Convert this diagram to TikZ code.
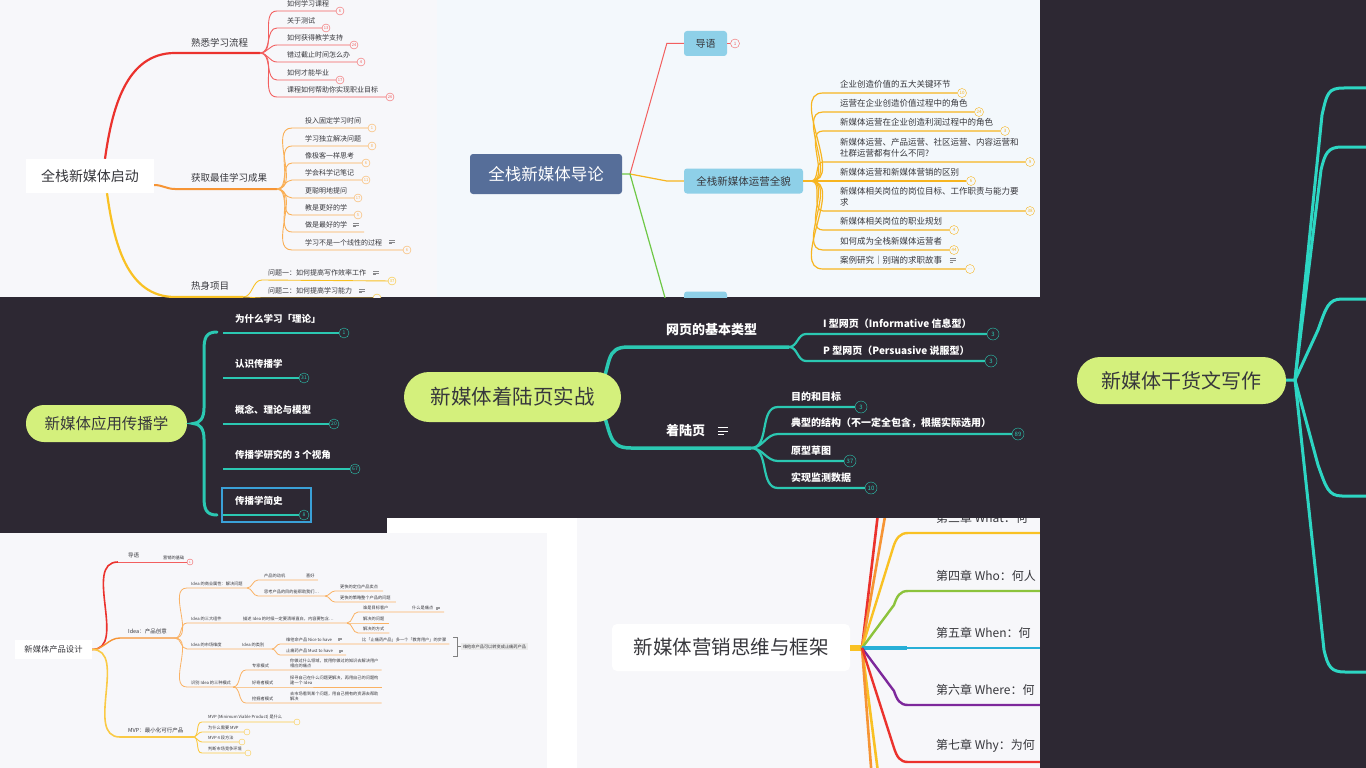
\documentclass[tikz,border=0pt]{standalone}
\usepackage{fontspec}
\setmainfont{Noto Sans CJK SC}
\usetikzlibrary{positioning,calc}

\definecolor{darkbg}{RGB}{45,40,51}
\definecolor{lightbg}{RGB}{247,247,250}
\definecolor{bluebg}{RGB}{243,248,252}
\definecolor{txtdark}{RGB}{55,55,60}
\definecolor{mmred}{RGB}{235,50,45}
\definecolor{mmredl}{RGB}{242,95,95}
\definecolor{mmorange}{RGB}{246,148,52}
\definecolor{mmorangel}{RGB}{250,175,85}
\definecolor{mmyellow}{RGB}{249,193,35}
\definecolor{slate}{RGB}{86,110,153}
\definecolor{skyblue}{RGB}{142,208,232}
\definecolor{amber}{RGB}{247,181,32}
\definecolor{mmgreen}{RGB}{110,200,70}
\definecolor{tealln}{RGB}{43,200,178}
\definecolor{tealbr}{RGB}{45,214,195}
\definecolor{limefill}{RGB}{212,240,124}
\definecolor{hlblue}{RGB}{58,160,215}
\definecolor{porange}{RGB}{250,178,100}
\definecolor{pyellow}{RGB}{250,202,70}
\definecolor{pgreen}{RGB}{140,195,60}
\definecolor{pblue}{RGB}{40,175,215}
\definecolor{ppurple}{RGB}{125,40,155}

\newcommand{\fsz}[2]{\fontsize{#1}{#2}\selectfont}

\begin{document}
\begin{tikzpicture}[x=1pt, y=-1pt,
  rootbox/.style={fill=white, inner sep=0pt, text=txtdark},
  pill/.style={fill=limefill, rounded corners=#1, inner sep=0pt, text=txtdark},
  topic/.style={fill=skyblue, rounded corners=3pt, minimum height=25pt, inner sep=0pt, text=txtdark},
  cnt/.style={circle, draw, inner sep=0pt, minimum size=#1},
  p1br/.style={anchor=south west, inner xsep=16pt, inner ysep=6pt, font=\fsz{9.5}{11}, text=txtdark},
  p1lf/.style={anchor=south west, inner xsep=#1, inner ysep=4pt, font=\fsz{7}{8}, text=txtdark},
  p2lf/.style={anchor=south west, inner xsep=17pt, inner ysep=4.5pt, align=left, font=\fsz{8.5}{11}, text=txtdark},
  p3lf/.style={anchor=south west, inner xsep=12pt, inner ysep=9pt, font=\bfseries\fsz{9.5}{11}, text=white},
  p4br/.style={anchor=south west, inner xsep=#1, inner ysep=11pt, font=\bfseries\fsz{13}{15}, text=white},
  p4lf/.style={anchor=south west, inner xsep=#1, inner ysep=5.5pt, font=\bfseries\fsz{10}{12}, text=white},
  p6br/.style={anchor=south west, inner xsep=#1, inner ysep=3.5pt, font=\fsz{5.5}{6.5}, text=txtdark},
  p6lf/.style={anchor=south west, inner xsep=#1, inner ysep=2.2pt, align=left, font=\fsz{4.2}{4.6}, text=txtdark},
  p7lf/.style={anchor=south west, inner xsep=28pt, inner ysep=9.5pt, font=\fsz{12}{14}, text=txtdark},
  noteic/.pic={\draw[line width=0.7pt] (-3.5,-2.2) -- (3.5,-2.2) (-3.5,0) -- (3.5,0) (-3.5,2.2) -- (0.5,2.2);}
]
\useasboundingbox (0,0) rectangle (1366,768);

% panel backgrounds
\fill[white] (0,0) rectangle (1366,768);
\fill[lightbg] (0,0) rectangle (437,297);
\fill[bluebg] (437,0) rectangle (1040,297);
\fill[darkbg] (0,297) rectangle (1040,518);
\fill[darkbg] (0,518) rectangle (387,533);
\fill[lightbg] (0,533) rectangle (547,768);
\fill[lightbg] (577,518) rectangle (1040,768);

% top left: 全栈新媒体启动
\begin{scope}
\clip (0,0) rectangle (437,297);
\node[rootbox, minimum width=128pt, minimum height=34pt, font=\fsz{14}{16}] (r1) at (90,176) {全栈新媒体启动};
\node[p1br] (b11) at (175,53) {熟悉学习流程};
\node[p1br] (b12) at (175,189) {获取最佳学习成果};
\node[p1br] (b13) at (175,297) {热身项目};
\coordinate (f11) at (260,53);
\coordinate (f12) at (277,189);
\coordinate (f13) at (243,297);
\draw[mmred, line width=2.2pt] ($(r1.north)+(15,0)$) to[out=82,in=180] (b11.south west) -- (f11);
\draw[mmorange, line width=2pt] ($(r1.east)+(0,9)$) to[out=0,in=180] (b12.south west) -- (f12);
\draw[mmyellow, line width=2.2pt] ($(r1.south)+(17,0)$) to[out=-82,in=180] (b13.south west) -- (f13);

\node[p1lf=10pt] (a11) at (277,11) {如何学习课程};
\node[p1lf=10pt] (a12) at (277,28) {关于测试};
\node[p1lf=10pt] (a13) at (277,45) {如何获得教学支持};
\node[p1lf=10pt] (a14) at (277,62) {错过截止时间怎么办};
\node[p1lf=10pt] (a15) at (277,80) {如何才能毕业};
\node[p1lf=10pt] (a16) at (277,97) {课程如何帮助你实现职业目标};
\node[cnt=8pt, mmredl, fill=lightbg, font=\fsz{4}{4}] (k11) at (340,11) {6};
\node[cnt=8pt, mmredl, fill=lightbg, font=\fsz{4}{4}] (k12) at (326,28) {13};
\node[cnt=8pt, mmredl, fill=lightbg, font=\fsz{4}{4}] (k13) at (354,45) {24};
\node[cnt=8pt, mmredl, fill=lightbg, font=\fsz{4}{4}] (k14) at (361,62) {4};
\node[cnt=8pt, mmredl, fill=lightbg, font=\fsz{4}{4}] (k15) at (340,80) {17};
\node[cnt=8pt, mmredl, fill=lightbg, font=\fsz{4}{4}] (k16) at (390,97) {26};
\draw[mmredl, line width=0.9pt] (f11) to[out=0,in=180] (a11.south west) -- (k11);
\draw[mmredl, line width=0.9pt] (f11) to[out=0,in=180] (a12.south west) -- (k12);
\draw[mmredl, line width=0.9pt] (f11) to[out=0,in=180] (a13.south west) -- (k13);
\draw[mmredl, line width=0.9pt] (f11) to[out=0,in=180] (a14.south west) -- (k14);
\draw[mmredl, line width=0.9pt] (f11) to[out=0,in=180] (a15.south west) -- (k15);
\draw[mmredl, line width=0.9pt] (f11) to[out=0,in=180] (a16.south west) -- (k16);

\node[p1lf=13pt] (a21) at (292,128) {投入固定学习时间};
\node[p1lf=13pt] (a22) at (292,146) {学习独立解决问题};
\node[p1lf=13pt] (a23) at (292,163) {像极客一样思考};
\node[p1lf=13pt] (a24) at (292,180) {学会科学记笔记};
\node[p1lf=13pt] (a25) at (292,198) {更聪明地提问};
\node[p1lf=13pt] (a26) at (292,215) {教是更好的学};
\node[p1lf=13pt] (a27) at (292,232) {做是最好的学};
\node[p1lf=13pt] (a28) at (292,250) {学习不是一个线性的过程};
\node[cnt=8pt, mmorangel, fill=lightbg, font=\fsz{4}{4}] (k21) at (372,128) {1};
\node[cnt=8pt, mmorangel, fill=lightbg, font=\fsz{4}{4}] (k22) at (372,146) {8};
\node[cnt=8pt, mmorangel, fill=lightbg, font=\fsz{4}{4}] (k23) at (366,163) {6};
\node[cnt=8pt, mmorangel, fill=lightbg, font=\fsz{4}{4}] (k24) at (366,180) {11};
\node[cnt=8pt, mmorangel, fill=lightbg, font=\fsz{4}{4}] (k25) at (358,198) {17};
\node[cnt=8pt, mmorangel, fill=lightbg, font=\fsz{4}{4}] (k26) at (358,215) {5};
\coordinate (k27) at (364,232);
\node[cnt=8pt, mmorangel, fill=lightbg, font=\fsz{4}{4}] (k28) at (407,250) {6};
\draw[mmorangel, line width=0.9pt] (f12) to[out=0,in=180] (a21.south west) -- (k21);
\draw[mmorangel, line width=0.9pt] (f12) to[out=0,in=180] (a22.south west) -- (k22);
\draw[mmorangel, line width=0.9pt] (f12) to[out=0,in=180] (a23.south west) -- (k23);
\draw[mmorangel, line width=0.9pt] (f12) to[out=0,in=180] (a24.south west) -- (k24);
\draw[mmorangel, line width=0.9pt] (f12) to[out=0,in=180] (a25.south west) -- (k25);
\draw[mmorangel, line width=0.9pt] (f12) to[out=0,in=180] (a26.south west) -- (k26);
\draw[mmorangel, line width=0.9pt] (f12) to[out=0,in=180] (a27.south west) -- (k27);
\draw[mmorangel, line width=0.9pt] (f12) to[out=0,in=180] (a28.south west) -- (k28);
\pic[txtdark!60, scale=0.8] at (356,225) {noteic};
\pic[txtdark!60, scale=0.8] at (392,242) {noteic};

\node[p1lf=6pt] (a31) at (262,280) {问题一：如何提高写作效率工作};
\node[p1lf=6pt] (a32) at (262,298) {问题二：如何提高学习能力};
\node[cnt=8pt, mmyellow, fill=lightbg, font=\fsz{4}{4}] (k31) at (392,281) {37};
\node[cnt=8pt, mmyellow, fill=lightbg] (k32) at (377,298) {};
\draw[mmyellow, line width=0.9pt] (f13) to[out=0,in=180] (a31.south west) -- (k31);
\draw[mmyellow, line width=0.9pt] (f13) to[out=0,in=180] (a32.south west) -- (k32);
\pic[txtdark!60, scale=0.8] at (376,273) {noteic};
\pic[txtdark!60, scale=0.8] at (362,291) {noteic};
\end{scope}

% top middle: 全栈新媒体导论
\begin{scope}
\clip (437,0) rectangle (1040,297);
\node[fill=slate, rounded corners=3pt, minimum width=152pt, minimum height=40pt, text=white, font=\fsz{16.5}{18}] (r2) at (546,174) {全栈新媒体导论};
\coordinate (f2) at (630,174);
\node[topic, minimum width=43pt, font=\fsz{10}{12}] (n21) at (705.5,43.5) {导语};
\node[topic, minimum width=119pt, font=\fsz{10.5}{12}] (n22) at (743.5,181) {全栈新媒体运营全貌};
\node[topic, minimum width=43pt] (n23) at (705.5,304) {};
\node[cnt=9pt, mmredl, fill=bluebg, font=\fsz{4.5}{5}] (k20) at (735,43.5) {1};
\draw[mmredl, line width=1pt] (f2) -- ($(n21.west)+(-17,0)$) -- (n21.west);
\draw[mmredl, line width=1pt] (n21.east) -- (k20);
\draw[amber, line width=1.2pt] (f2) -- ($(n22.west)+(-17,0)$) -- (n22.west);
\draw[mmgreen, line width=1.2pt] (r2.east) -- (f2) -- ($(n23.west)+(-17,0)$) -- (n23.west);

\coordinate (f22) at (811,181);
\draw[amber, line width=1.3pt] (n22.east) -- (f22);
\node[p2lf] (l1) at (823,93) {企业创造价值的五大关键环节};
\node[p2lf] (l2) at (823,112) {运营在企业创造价值过程中的角色};
\node[p2lf] (l3) at (823,131) {新媒体运营在企业创造利润过程中的角色};
\node[p2lf] (l4) at (823,162) {新媒体运营、产品运营、社区运营、内容运营和\\社群运营都有什么不同?};
\node[p2lf] (l5) at (823,181) {新媒体运营和新媒体营销的区别};
\node[p2lf] (l6) at (823,211) {新媒体相关岗位的岗位目标、工作职责与能力要\\求};
\node[p2lf] (l7) at (823,230) {新媒体相关岗位的职业规划};
\node[p2lf] (l8) at (823,250) {如何成为全栈新媒体运营者};
\node[p2lf] (l9) at (823,269) {案例研究｜别瑞的求职故事};
\node[cnt=9pt, amber, fill=bluebg, font=\fsz{4.5}{5}] (c1) at (962,93) {10};
\node[cnt=9pt, amber, fill=bluebg, font=\fsz{4.5}{5}] (c2) at (979,112) {24};
\node[cnt=9pt, amber, fill=bluebg, font=\fsz{4.5}{5}] (c3) at (1005,131) {3};
\node[cnt=9pt, amber, fill=bluebg, font=\fsz{4.5}{5}] (c4) at (1030,162) {9};
\node[cnt=9pt, amber, fill=bluebg, font=\fsz{4.5}{5}] (c5) at (971,181) {6};
\node[cnt=9pt, amber, fill=bluebg, font=\fsz{4.5}{5}] (c6) at (1030,211) {38};
\node[cnt=9pt, amber, fill=bluebg, font=\fsz{4.5}{5}] (c7) at (954,230) {4};
\node[cnt=9pt, amber, fill=bluebg, font=\fsz{4.5}{5}] (c8) at (954,250) {44};
\node[cnt=9pt, amber, fill=bluebg, font=\fsz{4.5}{5}] (c9) at (970,269) {…};
\foreach \i in {1,...,9}
  \draw[amber, line width=1.2pt] (f22) to[out=0,in=180] (l\i.south west) -- (c\i);
\pic[txtdark!60, scale=0.9] at (953,260) {noteic};
\end{scope}

% middle left: 新媒体应用传播学
\node[pill=18pt, minimum width=161pt, minimum height=37pt, font=\fsz{15.5}{17}] (r3) at (106.5,423.5) {新媒体应用传播学};
\coordinate (t3) at (193,423.5);
\draw[tealln, line width=3pt, line cap=round] (217,332) .. controls (206,332) and (204,338) .. (204,350) -- (204,408) .. controls (204,418) and (200,423.5) .. (t3) .. controls (200,423.5) and (204,429) .. (204,439) -- (204,497) .. controls (204,509) and (206,515) .. (217,515);
\node[p3lf] (q1) at (223,333) {为什么学习「理论」};
\node[p3lf] (q2) at (223,378) {认识传播学};
\node[p3lf] (q3) at (223,424) {概念、理论与模型};
\node[p3lf] (q4) at (223,469) {传播学研究的 3 个视角};
\node[p3lf] (q5) at (223,515) {传播学简史};
\node[cnt=10pt, tealln, fill=darkbg, font=\fsz{5}{5}] (m1) at (344,333) {1};
\node[cnt=10pt, tealln, fill=darkbg, font=\fsz{5}{5}] (m2) at (304,378) {31};
\node[cnt=10pt, tealln, fill=darkbg, font=\fsz{5}{5}] (m3) at (334,424) {20};
\node[cnt=10pt, tealln, fill=darkbg, font=\fsz{5}{5}] (m4) at (355,469) {67};
\node[cnt=10pt, tealln, fill=darkbg, font=\fsz{5}{5}] (m5) at (304,515) {8};
\foreach \i in {1,...,5}
  \draw[tealln, line width=1.8pt] (q\i.south west) -- (m\i);
\draw[hlblue, line width=1.2pt] (222,488) rectangle (311,522);

% middle: 新媒体着陆页实战
\coordinate (r4c) at (512.5,397);
\node[p4br=37pt] (b41) at (629,347) {网页的基本类型};
\node[p4br=35pt] (b42) at (631,448) {着陆页};
\coordinate (f41) at (789,347);
\coordinate (f42) at (751,448);
\draw[tealln, line width=3.5pt] ($(r4c)+(85,0)$) .. controls +(15,-35) and +(-25,0) .. (b41.south west) -- (f41);
\draw[tealln, line width=3.5pt] ($(r4c)+(85,0)$) .. controls +(15,35) and +(-25,0) .. (b42.south west) -- (f42);
\node[pill=25pt, minimum width=217pt, minimum height=50pt, font=\fsz{20.5}{22}] (r4) at (r4c) {新媒体着陆页实战};
\pic[white, scale=1.5] at (723,431) {noteic};
\node[p4lf=17pt] (g1) at (806,334) {I 型网页（Informative 信息型）};
\node[p4lf=17pt] (g2) at (806,361) {P 型网页（Persuasive 说服型）};
\node[p4lf=13pt] (g3) at (778,407) {目的和目标};
\node[p4lf=13pt] (g4) at (778,434) {典型的结构（不一定全包含，根据实际选用）};
\node[p4lf=13pt] (g5) at (778,461) {原型草图};
\node[p4lf=13pt] (g6) at (778,488) {实现监测数据};
\node[cnt=12pt, tealln, fill=darkbg, font=\fsz{6}{6}] (h1) at (993,334) {3};
\node[cnt=12pt, tealln, fill=darkbg, font=\fsz{6}{6}] (h2) at (991,361) {3};
\node[cnt=12pt, tealln, fill=darkbg, font=\fsz{6}{6}] (h3) at (861,407) {3};
\node[cnt=12pt, tealln, fill=darkbg, font=\fsz{6}{6}] (h4) at (1018,434) {89};
\node[cnt=12pt, tealln, fill=darkbg, font=\fsz{6}{6}] (h5) at (850,461) {37};
\node[cnt=12pt, tealln, fill=darkbg, font=\fsz{6}{6}] (h6) at (871,488) {10};
\foreach \i in {1,2}
  \draw[tealln, line width=2.2pt] (f41) to[out=0,in=180] (g\i.south west) -- (h\i);
\foreach \i in {3,...,6}
  \draw[tealln, line width=2.2pt] (f42) to[out=0,in=180] (g\i.south west) -- (h\i);

% bottom left: 新媒体产品设计
\begin{scope}
\clip (0,533) rectangle (547,768);
\node[rootbox, minimum width=77pt, minimum height=19pt, font=\fsz{8.3}{10}] (r6) at (53.5,649.5) {新媒体产品设计};
\node[p6br=10pt] (b61) at (118,562) {导语};
\node[p6br=8pt] (b62) at (120,638) {Idea：产品创意};
\node[p6br=8pt] (b63) at (120,737) {MVP：最小化可行产品};
\coordinate (f62) at (175,638);
\coordinate (f63) at (193,737);
\draw[mmred, line width=1.6pt] (r6.east) to[out=0,in=180] (b61.south west);
\draw[mmorange, line width=1.4pt] (r6.east) to[out=0,in=180] (b62.south west) -- (f62);
\draw[pyellow, line width=1.6pt] (r6.east) to[out=0,in=180] (b63.south west) -- (f63);
\node[p6lf=3pt] (c61) at (160,562) {营销的基础};
\node[cnt=6pt, mmredl, fill=lightbg, font=\fsz{3}{3}] (k61) at (190,562) {1};
\draw[mmredl, line width=0.8pt] (b61.south west) -- (k61);

\node[p6lf=4pt] (c1) at (187,588) {Idea 的商业属性：解决问题};
\node[p6lf=4pt] (c2) at (187,623) {Idea 的三大组件};
\node[p6lf=4pt] (c3) at (187,649) {Idea 的市场维度};
\node[p6lf=4pt] (c4) at (187,687) {识别 Idea 的三种模式};
\node[p6lf=3pt] (c2a) at (240,623) {描述 Idea 的时候一定要清晰直白，内容要包含…};
\node[p6lf=3pt] (c3a) at (239,649) {Idea 的类别};
\coordinate (f621) at (247,588);
\coordinate (f622) at (347,623);
\coordinate (f623) at (272,649);
\coordinate (f624) at (233,687);
\draw[porange, line width=0.8pt] (f62) to[out=0,in=180] (c1.south west) -- (f621);
\draw[porange, line width=0.8pt] (f62) to[out=0,in=180] (c2.south west) -- (f622);
\draw[porange, line width=0.8pt] (f62) to[out=0,in=180] (c3.south west) -- (f623);
\draw[porange, line width=0.8pt] (f62) to[out=0,in=180] (c4.south west) -- (f624);

\node[p6lf=6pt] (d1) at (258,580) {产品的动机};
\node[p6lf=3pt] (d1a) at (303,580) {喜好};
\node[p6lf=6pt] (d2) at (258,596) {思考产品的目的能帮助我们…};
\coordinate (f6212) at (325,596);
\node[p6lf=5pt] (e1) at (335,591) {更快的定位产品卖点};
\node[p6lf=5pt] (e2) at (335,602) {更快的策略整个产品的问题};
\draw[porange, line width=0.8pt] (f621) to[out=0,in=180] (d1.south west) -- (d1a.south east);
\draw[porange, line width=0.8pt] (f621) to[out=0,in=180] (d2.south west) -- (f6212);
\draw[porange, line width=0.8pt] (f6212) to[out=0,in=180] (e1.south west) -- (e1.south east);
\draw[porange, line width=0.8pt] (f6212) to[out=0,in=180] (e2.south west) -- (e2.south east);

\node[p6lf=5pt] (d3) at (358,612) {谁是目标客户};
\node[p6lf=3pt] (d3a) at (409,612) {什么是痛点};
\coordinate (d3b) at (444,612);
\node[p6lf=5pt] (d4) at (358,623) {解决的问题};
\node[p6lf=5pt] (d5) at (358,633) {解决的方式};
\draw[porange, line width=0.8pt] (f622) to[out=0,in=180] (d3.south west) -- (d3b);
\draw[porange, line width=0.8pt] (f622) to[out=0,in=180] (d4.south west) -- (d4.south east);
\draw[porange, line width=0.8pt] (f622) to[out=0,in=180] (d5.south west) -- (d5.south east);
\pic[txtdark!50, scale=0.45] at (438,608) {noteic};

\node[p6lf=6pt] (d6) at (280,644) {维他命产品 Nice to have};
\node[p6lf=3pt] (d6a) at (359,644) {比「止痛药产品」多一个「教育用户」的步骤};
\node[p6lf=6pt] (d7) at (280,655) {止痛药产品 Must to have};
\coordinate (d7b) at (346,655);
\draw[porange, line width=0.8pt] (f623) to[out=0,in=180] (d6.south west) -- (d6a.south east);
\draw[porange, line width=0.8pt] (f623) to[out=0,in=180] (d7.south west) -- (d7b);
\pic[txtdark!50, scale=0.45] at (340,639) {noteic};
\pic[txtdark!50, scale=0.45] at (341,651) {noteic};
\node[fill=black!8, font=\fsz{4.2}{5}, text=txtdark, inner sep=1.8pt, anchor=west] (s6) at (461,646.5) {维他命产品可以转变成止痛药产品};
\draw[gray, line width=0.6pt] (s6.west) -- ++(-4,0) coordinate (sb);
\draw[gray, line width=0.6pt] ($(sb)+(-4,-9.5)$) -- ($(sb)+(0,-9.5)$) -- ($(sb)+(0,9.5)$) -- ($(sb)+(-4,9.5)$);

\node[p6lf=6pt] (d8) at (246,670) {专家模式};
\node[p6lf=6pt] (d9) at (246,687) {好奇者模式};
\node[p6lf=6pt] (d10) at (246,703) {挖掘者模式};
\node[p6lf=3pt] (d8a) at (287,670) {你做过什么领域，就用你做过的知识去解决用户\\相应的痛点};
\node[p6lf=3pt] (d9a) at (287,687) {探寻自己在什么问题更解决，再用自己的问题构\\建一个 Idea};
\node[p6lf=3pt] (d10a) at (287,703) {去市场看到某个问题，用自己拥有的资源去帮助\\解决};
\draw[porange, line width=0.8pt] (f624) to[out=0,in=180] (d8.south west) -- (d8a.south east);
\draw[porange, line width=0.8pt] (f624) to[out=0,in=180] (d9.south west) -- (d9a.south east);
\draw[porange, line width=0.8pt] (f624) to[out=0,in=180] (d10.south west) -- (d10a.south east);

\node[p6lf=6pt] (y1) at (202,722) {MVP (Minimum Viable Product) 是什么};
\node[p6lf=6pt] (y2) at (202,732) {为什么需要 MVP};
\node[p6lf=6pt] (y3) at (202,742) {MVP 4 段方法};
\node[p6lf=6pt] (y4) at (202,753) {判断市场竞争环境};
\node[cnt=6pt, pyellow, fill=lightbg] (z1) at (297,722) {};
\node[cnt=6pt, pyellow, fill=lightbg] (z2) at (247,732) {};
\node[cnt=6pt, pyellow, fill=lightbg] (z3) at (242,742) {};
\node[cnt=6pt, pyellow, fill=lightbg] (z4) at (248,753) {};
\foreach \i in {1,...,4}
  \draw[pyellow, line width=0.9pt] (f63) to[out=0,in=180] (y\i.south west) -- (z\i);
\end{scope}

% bottom middle: 新媒体营销思维与框架
\begin{scope}
\clip (577,518) rectangle (1040,768);
\node[rootbox, rounded corners=5pt, minimum width=238pt, minimum height=47pt, font=\fsz{19.5}{21}] (r7) at (731,647.5) {新媒体营销思维与框架};
\coordinate (f7) at (862,648);
\fill[mmyellow] ($(r7.east)+(0,-2.5)$) rectangle ($(f7)+(0,3)$);
\node[p7lf] (w3) at (908,533) {第三章 What：何};
\node[p7lf] (w4) at (908,591) {第四章 Who：何人};
\node[p7lf] (w5) at (908,648) {第五章 When：何};
\node[p7lf] (w6) at (908,705) {第六章 Where：何};
\node[p7lf] (w7) at (908,762) {第七章 Why：为何};
\coordinate (e3) at (1045,533);
\coordinate (e4) at (1045,591);
\coordinate (e5) at (1045,648);
\coordinate (e6) at (1045,705);
\coordinate (e7) at (1045,762);
\coordinate (u1) at (879,505);
\coordinate (u2) at (887,505);
\coordinate (u3) at (872,780);
\coordinate (u4) at (879,780);
\draw[mmred, line width=2.6pt] (f7) -- (u1);
\draw[mmorange, line width=2.6pt] (f7) -- (u2);
\draw[mmyellow, line width=2.6pt] (f7) -- (u4);
\draw[mmorange, line width=2.6pt] (f7) -- (u3);
\draw[mmyellow, line width=2.4pt] (f7) -- ($(w3.south west)+(-15,15)$) .. controls +(3,-10) and +(-8,0) .. (w3.south west) -- (e3);
\draw[pgreen, line width=2.4pt] (f7) -- ($(w4.south west)+(-14,14)$) .. controls +(3,-9) and +(-8,0) .. (w4.south west) -- (e4);
\draw[pblue, line width=4.5pt] (f7) -- ($(f7)+(45,0)$);
\draw[pblue, line width=2pt] (f7) -- (w5.south west) -- (e5);
\draw[ppurple, line width=2.4pt] (f7) -- ($(w6.south west)+(-14,-14)$) .. controls +(3,9) and +(-8,0) .. (w6.south west) -- (e6);
\draw[mmred, line width=2.4pt] (f7) -- ($(w7.south west)+(-14,-14)$) .. controls +(3,9) and +(-8,0) .. (w7.south west) -- (e7);
\end{scope}

% right: 新媒体干货文写作
\fill[darkbg] (1040,0) rectangle (1366,768);
\coordinate (r5c) at (1181.5,380.5);
\coordinate (f5) at (1295,380);
\coordinate (e51) at (1366,88);
\coordinate (e52) at (1366,147);
\coordinate (e53) at (1366,299);
\coordinate (e54) at (1366,496);
\coordinate (e55) at (1366,672);
\draw[tealbr, line width=3pt] (r5c) -- (f5);
\draw[tealbr, line width=3pt] (f5) -- ($(e51)+(-44,27)$) .. controls +(5,-22) and +(-16,0) .. ($(e51)+(-22,0)$) -- (e51);
\draw[tealbr, line width=3pt] (f5) -- ($(e52)+(-45,23)$) .. controls +(4,-17) and +(-14,0) .. ($(e52)+(-24,0)$) -- (e52);
\draw[tealbr, line width=3pt] (f5) -- ($(e53)+(-48,31)$) .. controls +(8,-22) and +(-14,0) .. ($(e53)+(-24,0)$) -- (e53);
\draw[tealbr, line width=3pt] (f5) -- ($(e54)+(-48,-31)$) .. controls +(8,22) and +(-14,0) .. ($(e54)+(-24,0)$) -- (e54);
\draw[tealbr, line width=3pt] (f5) -- ($(e55)+(-42,-22)$) .. controls +(4,17) and +(-14,0) .. ($(e55)+(-21,0)$) -- (e55);
\node[pill=23pt, minimum width=209pt, minimum height=47pt, font=\fsz{20}{22}] (r5) at (r5c) {新媒体干货文写作};
\end{tikzpicture}
\end{document}
